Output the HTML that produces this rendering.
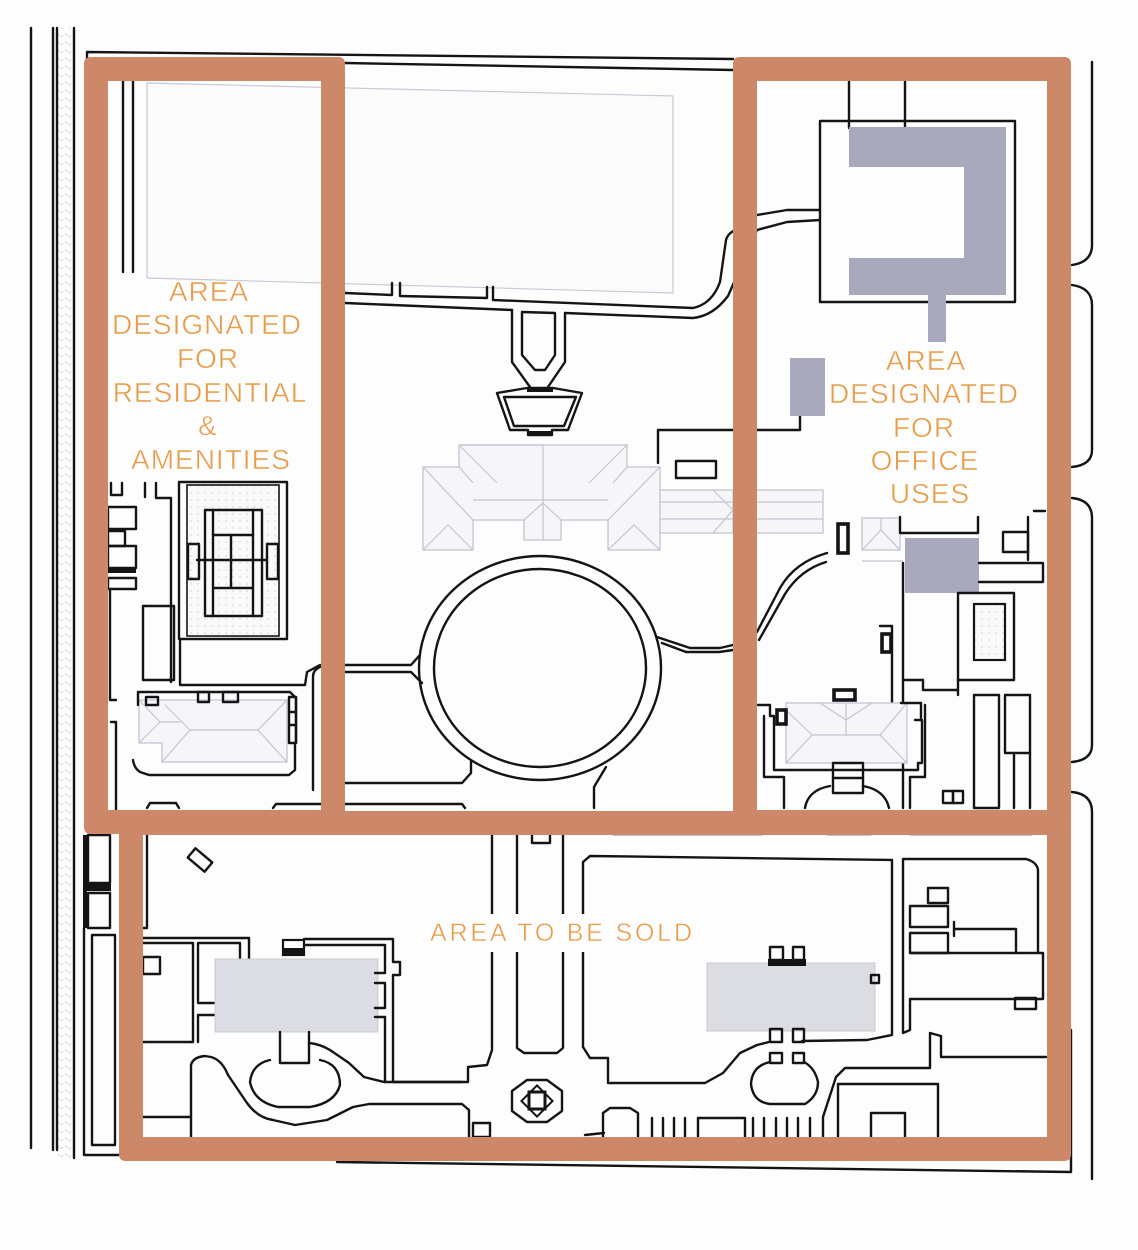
<!DOCTYPE html>
<html><head><meta charset="utf-8"><style>
html,body{margin:0;padding:0;background:#fdfdfd;}
svg{display:block;}
.k{fill:none;stroke:#141414;stroke-width:2.4;stroke-linejoin:round;stroke-linecap:round;}
.kt{fill:none;stroke:#141414;stroke-width:3.6;}
.lg{fill:#f6f6f9;stroke:#c3c3d3;stroke-width:1.3;}
.ll{fill:none;stroke:#c3c3d3;stroke-width:1.2;}
.gf{fill:#a9a9bd;}
.gb{fill:#dcdce3;stroke:#c9c9d3;stroke-width:1;}
.or{fill:#cc8868;fill-rule:evenodd;}
.tx{font-family:"Liberation Sans",sans-serif;fill:#e99c48;stroke:#fdfdfd;stroke-width:0.5;letter-spacing:1px;}
</style></head><body>
<svg width="1138" height="1250" viewBox="0 0 1138 1250" xmlns="http://www.w3.org/2000/svg">
<defs>
<pattern id="dt" width="8" height="8" patternUnits="userSpaceOnUse">
<path d="M1,1 l3,3 M5,5 l2,-2" stroke="#c8c8cc" stroke-width="0.8"/>
</pattern>
<pattern id="sp" width="7" height="7" patternUnits="userSpaceOnUse">
<rect width="7" height="7" fill="#fafafa"/><circle cx="2" cy="3" r="0.6" fill="#b8b8b8"/>
</pattern>
</defs>
<rect width="1138" height="1250" fill="#fdfdfd"/>

<!-- outer left lines -->
<rect x="58" y="28" width="14" height="1130" fill="url(#dt)"/>
<path class="k" d="M31,28 V1148 M53,28 V1150 M57,28 V1150 M74,28 V1158"/>

<!-- top boundary -->
<path class="k" d="M87,60 V52 L733,59 M345,63 L733,70"/>

<!-- light top rectangle -->
<path d="M147,83 L673,96 L673,293 L147,278 Z" fill="#fbfbfc" stroke="#c8c8d6" stroke-width="1.2"/>
<path class="k" d="M123,80 V272 M133,80 V272"/>

<!-- road below field -->
<path class="k" d="M345,293 L392,295 V283 M400,283 V296 L487,298 V287 M493,287 V300 L693,308 Q712,304 720,282 L726,240 Q728,232 740,228 L757,215 L787,210 L820,210"/>
<path class="k" d="M345,303 L512,310 M565,313 L693,318 Q713,316 728,296 L757,230 L787,222 L820,220"/>

<!-- central drive -->
<path class="k" d="M512,310 V362 L530,387 M565,313 V362 L548,387"/>
<path class="k" d="M522,312 L555,313 V355 L545,370 L535,370 L522,355 Z"/>
<path class="k" d="M497,393 L527,388 L553,388 L582,393 L568,430 L552,430 V435 L528,435 V430 L510,430 Z"/>
<path class="k" d="M504,397 L576,397 L564,426 L514,426 Z"/>
<rect x="527" y="387" width="26" height="5" fill="#141414"/>
<rect x="528" y="431" width="24" height="5" fill="#141414"/>

<!-- mansion light roof -->
<path class="lg" d="M423,467 L459,467 L459,445 L627,445 L627,467 L660,467 L660,550 L608,550 L608,520 L561,520 L561,540 L524,540 L524,520 L473,520 L473,550 L423,550 Z"/>
<path class="ll" d="M423,467 L473,520 M423,550 L448,525 L473,550 M459,445 L497,483 M473,483 L459,467 M627,445 L589,483 M613,483 L627,467 M660,467 L608,520 M608,550 L634,525 L660,550 M543,445 V540 M473,500 H608 M524,520 L543,503 L561,520 M459,445 L543,445"/>
<path class="lg" d="M660,490 H823 V533 H660 Z"/>
<path class="ll" d="M660,502 H823 M660,519 H823 M713,490 L733,510 L713,533 M733,490 V533"/>
<path class="lg" d="M862,518 H900 V550 H862 Z"/>
<path class="ll" d="M862,550 L881,530 L900,550 M881,518 V530"/>

<!-- box near mansion -->
<path class="k" d="M658,463 V430 H733 M757,430 H800 V413"/>
<rect class="k" x="676" y="461" width="40" height="17"/>

<!-- circle -->
<ellipse class="k" cx="540" cy="668" rx="121" ry="112"/>
<ellipse class="k" cx="540" cy="668" rx="106" ry="99"/>
<path class="k" d="M345,665 H411 L419,656 M345,672 H411 L422,683"/>
<path class="k" d="M657,637 L690,648 H720 L733,645 M662,643 L686,652 H719 L733,650"/>
<path class="k" d="M345,783 H462 L471,773 V762 M313,790 V677 Q313,670 320,667"/>
<path class="k" d="M594,808 V787 L606,767"/>
<path class="k" d="M147,808 L150,803 H176 L179,808 M273,808 L276,804 H462 L465,808"/>

<!-- residential details -->
<rect class="k" x="179" y="482" width="108" height="157"/>
<rect x="187" y="485" width="92" height="151" fill="url(#sp)" stroke="#141414" stroke-width="1.6"/>
<rect class="k" x="205" y="510" width="57" height="106" fill="#fff"/>
<path class="k" d="M213,510 V616 M253,510 V616 M231,535 V588 M213,535 H253 M213,588 H253 M197,560 H266"/>
<rect class="k" x="188" y="544" width="11" height="35"/>
<rect class="k" x="267" y="544" width="11" height="35"/>
<path class="k" d="M180,639 V685 H305 L307,672 L320,665"/>
<rect class="k" x="143" y="606" width="31" height="74"/>
<path class="k" d="M156,483 V498 H171 V682 M111,483 V495 H122 V483 M145,483 V497"/>
<rect class="k" x="108" y="507" width="28" height="22"/>
<rect class="k" x="108" y="531" width="17" height="15"/>
<rect class="k" x="108" y="546" width="28" height="22"/>
<rect x="108" y="568" width="28" height="5" fill="#141414"/>
<rect class="k" x="108" y="578" width="28" height="11"/>
<path class="k" d="M110,590 V700 H116 M111,722 H116 V812"/>
<!-- lower residential building -->
<path class="lg" d="M139,700 H287 V762 H162 V743 H139 Z"/>
<path class="ll" d="M162,762 L190,730 H258 L287,762 M258,730 L287,700 M190,730 L165,705 M139,700 L160,722 H180 M139,743 L160,722"/>
<path class="k" d="M138,705 V692 H290 L296,698 V743 M133,760 Q134,768 140,772 L149,775 H289 L295,770 V745"/>
<rect class="k" x="146" y="697" width="12" height="8"/>
<rect class="k" x="198" y="692" width="11" height="10"/>
<rect class="k" x="223" y="692" width="15" height="10"/>
<rect class="k" x="289" y="697" width="7" height="46"/>
<path class="k" d="M289,712 H296 M289,725 H296"/>

<!-- office details -->
<path class="k" d="M849,80 V128 M905,80 V128"/>
<rect class="k" x="820" y="121" width="195" height="181"/>
<path class="gf" d="M849,127 H1006 V295 H849 V258 H964 V167 H849 Z"/>
<rect class="gf" x="928" y="295" width="18" height="47"/>
<rect class="gf" x="790" y="358" width="35" height="58"/>
<path class="k" d="M1092,62 V245 Q1092,262 1072,265 M1072,285 Q1092,288 1092,305 V450 Q1092,465 1072,467 M1072,498 Q1092,500 1092,518 V745 Q1092,760 1072,762 M1072,792 Q1092,794 1092,812 V1179"/>
<path class="k" d="M1071,1030 V1172 L337,1162"/>
<path class="k" d="M900,517 V533 H978 V517"/>
<rect class="gf" x="905" y="538" width="74" height="55"/>
<path class="k" d="M903,563 V808 M903,680 H923 M979,563 H1043 V582 H979"/>
<rect class="k" x="1003" y="532" width="25" height="20"/>
<path class="k" d="M1028,517 V560 M1034,511 H1045"/>
<rect class="k" x="958" y="593" width="56" height="87"/>
<rect x="974" y="604" width="31" height="56" fill="url(#sp)" stroke="#141414" stroke-width="2.2"/>
<path class="k" d="M923,680 V690 H958 M958,680 V695"/>
<rect class="k" x="974" y="695" width="25" height="113"/>
<rect class="k" x="1005" y="695" width="25" height="58"/>
<path class="k" d="M1014,753 V808 M1030,753 V808"/>
<rect class="k" x="943" y="791" width="10" height="12"/>
<rect class="k" x="953" y="791" width="10" height="12"/>
<rect class="kt" x="838" y="524" width="10" height="29"/>
<path class="k" d="M827,553 Q795,562 780,588 L757,632 M826,562 Q800,570 785,594 L759,640"/>
<path class="ll" d="M862,561 H903"/>
<path class="k" d="M880,626 H892 V703"/>
<rect class="kt" x="882" y="634" width="9" height="18"/>
<!-- lower office building -->
<path class="lg" d="M786,703 H907 V763 H786 Z"/>
<path class="ll" d="M786,763 L812,735 H880 L907,763 M880,735 L907,703 M812,735 L786,710 M846,703 V735 M820,703 L846,720 L872,703"/>
<path class="k" d="M758,705 H770 V716 H774 V770 H918 V763 H922 V720 H915 M901,703 H921 V718"/>
<rect class="kt" x="777" y="710" width="9" height="14"/>
<path class="k" d="M764,716 V777 H784 V808 M925,705 V777 H910 V808"/>
<rect class="kt" x="834" y="690" width="21" height="10"/>
<rect class="k" x="833" y="763" width="30" height="30"/>
<path class="k" d="M833,778 H863 M805,808 Q808,790 830,786 M863,786 Q885,790 889,808"/>

<!-- bottom left outside -->
<path d="M85,835 V928" stroke="#141414" stroke-width="4"/>
<rect class="k" x="88" y="835" width="22" height="48"/>
<rect class="k" x="88" y="893" width="22" height="35"/>
<rect x="86" y="884" width="25" height="7" fill="#141414"/>
<path class="k" d="M84,928 V1155 H119 M147,835 V928 H143"/>
<rect class="k" x="92" y="935" width="23" height="210"/>

<!-- sold area -->
<rect class="k" x="-11" y="-6" width="22" height="12" transform="translate(200,860) rotate(40)"/>
<path class="k" d="M143,938 H249 V960 M143,943 H193 V1042 H143 M198,1042 V1015 H215 M215,1003 H198 V943 H240 V960"/>
<rect class="k" x="143" y="957" width="17" height="17"/>
<rect class="gb" x="215" y="959" width="163" height="73"/>
<rect x="283" y="940" width="21" height="15" fill="#fff" stroke="#141414" stroke-width="2.2"/>
<rect x="284" y="948" width="19" height="7" fill="#141414"/>
<path class="k" d="M304,939 H393 V962 H400 V975 H393 V1082 H462 M304,945 H385 V973 H375 M375,983 H385 V1008 H375 M375,1017 H385 V1082"/>
<path class="k" d="M280,1032 V1063 H309 V1032"/>
<path class="k" d="M270,1060 Q252,1064 250,1082 Q254,1102 278,1107 H310 Q335,1103 340,1085 Q340,1064 320,1060"/>
<path class="k" d="M191,1137 V1065 Q193,1057 205,1056 L211,1057 Q222,1060 228,1075 L247,1103 Q258,1118 273,1120 L295,1125 L327,1120 L353,1107 L369,1104 H462 L469,1110 V1137"/>
<path class="k" d="M309,1043 Q320,1044 330,1050 L349,1063 L364,1077 L384,1082 H468 V1067 L487,1065 L492,1050 V833"/>
<path class="k" d="M142,1117 H191"/>
<path class="k" d="M517,833 V1048 L524,1053 H557 L563,1048 V833"/>
<path class="k" d="M583,1047 V862 L590,856 L892,860 V1035 L867,1040 L802,1041"/>
<path class="k" d="M583,1047 L590,1058 H608 V1083 H705 L723,1073 L740,1053 L757,1045 L769,1042"/>
<path class="k" d="M512,1091 L527,1080 H547 L562,1091 V1111 L547,1122 H527 L512,1111 Z"/>
<rect x="529" y="1092" width="16" height="17" fill="none" stroke="#141414" stroke-width="3"/>
<rect x="-11" y="-11" width="22" height="22" fill="none" stroke="#141414" stroke-width="2" transform="translate(537,1101) rotate(45)"/>
<rect class="k" x="473" y="1123" width="17" height="14"/>
<path class="k" d="M603,1137 V1113 L610,1108 H630 L638,1113 V1137 M585,1135 L604,1133"/>
<path class="k" d="M652,1118 V1137 M663,1118 V1137 M674,1118 V1137 M685,1118 V1137 M698,1137 V1118 H745 V1137 M753,1118 V1137 M764,1118 V1137 M776,1118 V1137 M787,1118 V1137 M798,1118 V1137 M810,1118 V1137"/>
<rect class="k" x="532" y="833" width="18" height="10"/>
<path class="k" d="M613,834 H762 M827,834 H871 M910,834 H1032"/>
<rect class="gb" x="707" y="963" width="168" height="68"/>
<rect class="k" x="770" y="947" width="13" height="13"/>
<rect class="k" x="793" y="947" width="11" height="13"/>
<rect x="768" y="959" width="38" height="7" fill="#141414"/>
<rect class="k" x="871" y="975" width="8" height="8"/>
<rect class="k" x="770" y="1029" width="12" height="13"/>
<rect class="k" x="793" y="1029" width="11" height="13"/>
<rect class="k" x="770" y="1053" width="12" height="10"/>
<rect class="k" x="793" y="1053" width="11" height="10"/>
<path class="k" d="M770,1062 Q752,1066 751,1084 Q753,1102 770,1104 H805 Q818,1096 818,1082 Q815,1068 804,1062"/>
<path class="k" d="M903,859 H1026 Q1037,862 1038,870 V953 M903,859 V1033 L910,1030 V999 M910,953 H1043 V999 H910"/>
<rect class="k" x="928" y="888" width="20" height="15"/>
<rect class="k" x="910" y="906" width="38" height="21"/>
<rect class="k" x="910" y="933" width="38" height="20"/>
<path class="k" d="M954,922 V936 M954,929 H1016 V953"/>
<rect class="k" x="1015" y="998" width="21" height="11"/>
<path class="k" d="M930,1033 L941,1036 V1057 H1046 M930,1033 V1068 H845 L836,1077 L823,1117 V1137"/>
<path class="k" d="M838,1137 V1084 H938 V1137 M871,1137 V1113 H905 V1137"/>

<!-- text gap -->
<rect x="425" y="914" width="273" height="38" fill="#fdfdfd"/>

<!-- orange frames -->
<path class="or" d="M91,57 H338 Q345,57 345,64 V827 Q345,834 338,834 H91 Q84,834 84,827 V64 Q84,57 91,57 Z M108,81 V810 H321 V81 Z"/>
<path class="or" d="M740,57 H1064 Q1071,57 1071,64 V827 Q1071,834 1064,834 H740 Q733,834 733,827 V64 Q733,57 740,57 Z M757,81 V810 H1047 V81 Z"/>
<path class="or" d="M126,811 H1064 Q1071,811 1071,818 V1154 Q1071,1161 1064,1161 H126 Q119,1161 119,1154 V818 Q119,811 126,811 Z M143,835 V1137 H1047 V835 Z"/>

<!-- labels -->
<g class="tx" font-size="28" text-anchor="middle">
<text x="209" y="301">AREA</text>
<text x="207" y="334">DESIGNATED</text>
<text x="208" y="368">FOR</text>
<text x="210" y="402">RESIDENTIAL</text>
<text x="208" y="435">&amp;</text>
<text x="211" y="469">AMENITIES</text>
<text x="926" y="370">AREA</text>
<text x="924" y="403">DESIGNATED</text>
<text x="924" y="437">FOR</text>
<text x="925" y="470">OFFICE</text>
<text x="930" y="503">USES</text>
</g>
<text class="tx" x="430" y="941" font-size="25" textLength="263" lengthAdjust="spacing">AREA TO BE SOLD</text>
</svg>
</body></html>
